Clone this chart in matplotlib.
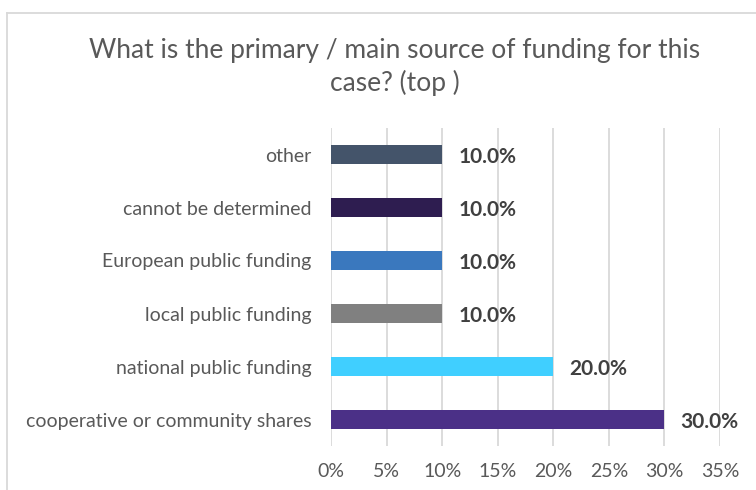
import matplotlib
matplotlib.use("Agg")
import matplotlib.pyplot as plt
from matplotlib.lines import Line2D

categories = ["cooperative or community shares", "national public funding",
              "local public funding", "European public funding",
              "cannot be determined", "other"]
values = [30.0, 20.0, 10.0, 10.0, 10.0, 10.0]
colors = ["#4B3087", "#40CFFF", "#808080", "#3A78BE", "#2E1D50", "#44546A"]
xticks = [0, 5, 10, 15, 20, 25, 30, 35]
title = "What is the primary / main source of funding for this\ncase? (top )"

plt.rcParams['font.family'] = ['Lato', 'DejaVu Sans']

fig = plt.figure(figsize=(7.56, 4.90), dpi=100)
ax = fig.add_axes([331/756, 44/490, 389/756, 318/490])

y = list(range(len(categories)))
ax.barh(y, values, height=0.34, color=colors, zorder=3)
for yi, v in zip(y, values):
    ax.annotate(f"{v:.1f}%", (v, yi), xytext=(11.5, -2), textcoords="offset points",
                ha="left", va="center", fontsize=15, fontweight="bold", color="#404040")

ax.set_xlim(0, 35)
ax.set_ylim(-0.5, len(categories) - 0.5)
ax.set_xticks(xticks)
ax.set_xticklabels([f"{t}%" for t in xticks])
ax.set_yticks(y)
ax.set_yticklabels(categories)
ax.tick_params(axis="both", length=0, labelcolor="#595959", labelsize=14)
ax.tick_params(axis="x", pad=12)
ax.tick_params(axis="y", pad=14)
ax.grid(axis="x", color="#D9D9D9", linewidth=1.3, zorder=0)
for s in ax.spines.values():
    s.set_visible(False)

fig.text(395/756, 1 - 67/490, title, ha="center", va="center", fontsize=19,
         color="#595959", linespacing=1.3)

fig.add_artist(Line2D([7/756, 7/756], [0, 1 - 13/490], transform=fig.transFigure,
                      color="#D9D9D9", linewidth=1.3))
fig.add_artist(Line2D([7/756, 1], [1 - 13/490, 1 - 13/490], transform=fig.transFigure,
                      color="#D9D9D9", linewidth=1.3))

fig.savefig("out.png", dpi=100)
